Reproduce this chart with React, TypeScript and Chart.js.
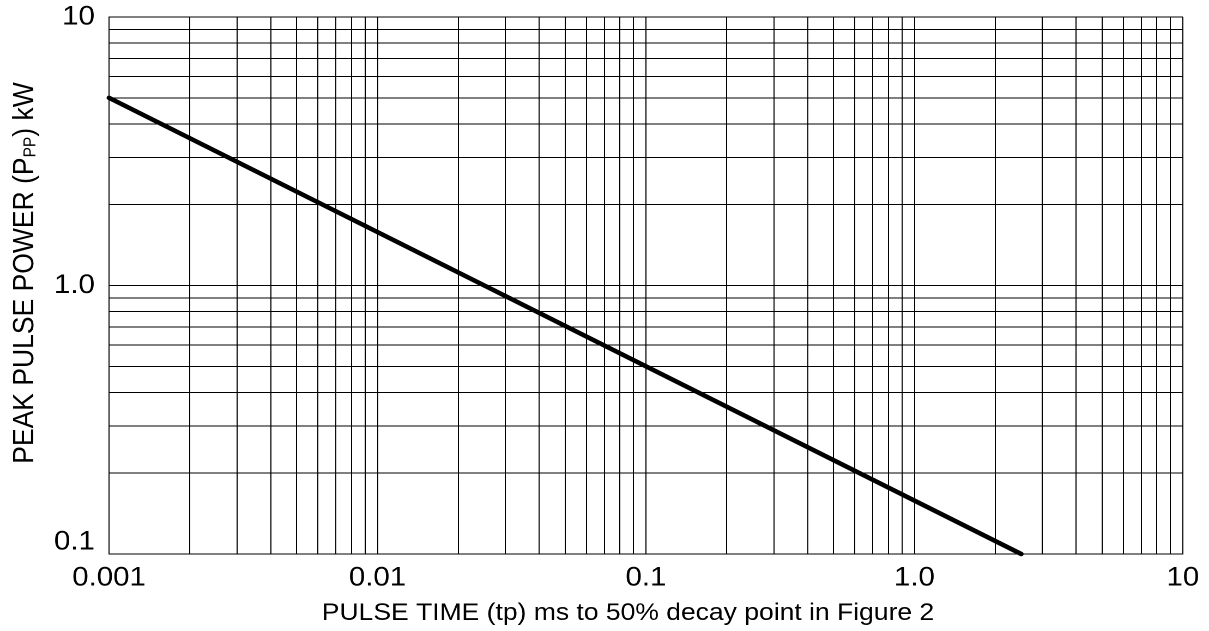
import React, { useEffect, useRef } from 'react';
import { Chart, registerables } from 'chart.js';

Chart.register(...registerables);

// ---- data ----
const PULSE_TIME_MS = [0.001, 2.5];
const PEAK_POWER_KW = [5, 0.1];

const X_DECADES = [0.001, 0.01, 0.1, 1, 10];
const X_TICK_LABELS = ['0.001', '0.01', '0.1', '1.0', '10'];
const Y_DECADES = [0.1, 1, 10];
const Y_TICK_LABELS = ['0.1', '1.0', '10'];
const GRID_MANTISSAS = [1, 2, 3, 4, 5, 6, 7, 8, 9];

const X_TITLE = 'PULSE TIME (tp) ms to 50% decay point in Figure 2';
const Y_TITLE_PARTS = ['PEAK PULSE POWER (P', 'PP', ') kW'];

// ---- layout ----
const W = 1209;
const H = 631;
const STRETCH = 1.09;
const CW = Math.round(W / STRETCH);
const SX = W / CW;
const FONT = "'Liberation Sans', Arial, Helvetica, sans-serif";
const TICK_SIZE = 27;

function gridValues(decades: number[]): number[] {
  const out: number[] = [];
  decades.forEach((d, i) => {
    if (i === decades.length - 1) {
      out.push(d);
    } else {
      GRID_MANTISSAS.forEach((m) => out.push(+(d * m).toPrecision(8)));
    }
  });
  return out;
}

function decadeIndex(value: number, decades: number[]): number {
  return decades.findIndex((d) => Math.abs(value / d - 1) < 1e-6);
}

function labelFor(value: number, decades: number[], labels: string[]): string {
  const idx = decadeIndex(value, decades);
  return idx >= 0 ? labels[idx] : '';
}

const X_GRID = gridValues(X_DECADES);
const Y_GRID = gridValues(Y_DECADES);

const titlesPlugin = {
  id: 'axisTitles',
  afterDraw(chart: any) {
    const ctx = chart.ctx as CanvasRenderingContext2D;
    const main = `26.5px ${FONT}`;
    const sub = `15.5px ${FONT}`;
    ctx.save();
    ctx.fillStyle = '#000';

    // x title
    ctx.font = `24.3px ${FONT}`;
    ctx.textAlign = 'center';
    ctx.textBaseline = 'alphabetic';
    ctx.fillText(X_TITLE, 628 / SX, 620);

    // y title with subscript
    ctx.font = main;
    const w0 = ctx.measureText(Y_TITLE_PARTS[0]).width;
    const w2 = ctx.measureText(Y_TITLE_PARTS[2]).width;
    ctx.font = sub;
    const w1 = ctx.measureText(Y_TITLE_PARTS[1]).width;
    const total = w0 + w1 + w2;
    ctx.translate(30.5, 273);
    ctx.rotate(-Math.PI / 2);
    ctx.textAlign = 'left';
    let x = -total / 2;
    ctx.font = main;
    ctx.fillText(Y_TITLE_PARTS[0], x, 0);
    x += w0;
    ctx.font = sub;
    ctx.fillText(Y_TITLE_PARTS[1], x, 2);
    x += w1;
    ctx.font = main;
    ctx.fillText(Y_TITLE_PARTS[2], x, 0);
    ctx.restore();
  },
};

export default function App() {
  const ref = useRef<HTMLCanvasElement>(null);

  useEffect(() => {
    document.body.style.margin = '0';
    const canvas = ref.current;
    if (!canvas) return;
    const chart = new Chart(canvas, {
      type: 'line',
      data: {
        datasets: [
          {
            data: PULSE_TIME_MS.map((t, i) => ({ x: t, y: PEAK_POWER_KW[i] })),
            borderColor: '#000',
            borderWidth: 4.5,
            borderCapStyle: 'round',
            pointRadius: 0,
            fill: false,
            tension: 0,
            clip: false as any,
          },
        ],
      },
      options: {
        animation: false,
        responsive: false,
        devicePixelRatio: 2,
        layout: { padding: { top: 17, right: CW - 1085, bottom: 0, left: 0 } },
        plugins: {
          legend: { display: false },
          tooltip: { enabled: false },
          title: { display: false },
        },
        scales: {
          x: {
            type: 'logarithmic',
            min: 0.001,
            max: 10,
            afterBuildTicks: (axis: any) => {
              axis.ticks = X_GRID.map((v) => ({ value: v }));
            },
            afterFit: (axis: any) => {
              axis.height = 77;
              axis.paddingLeft = 0;
              axis.paddingRight = 0;
              axis.paddingTop = 0;
              axis.paddingBottom = 0;
            },
            ticks: {
              autoSkip: false,
              maxRotation: 0,
              minRotation: 0,
              padding: 8,
              color: '#000',
              font: { family: FONT, size: TICK_SIZE },
              callback: (v: any) => labelFor(Number(v), X_DECADES, X_TICK_LABELS),
            },
            grid: { color: '#000', lineWidth: 1, drawTicks: false },
            border: { color: '#000', width: 1 },
          },
          y: {
            type: 'logarithmic',
            min: 0.1,
            max: 10,
            afterBuildTicks: (axis: any) => {
              axis.ticks = Y_GRID.map((v) => ({ value: v }));
            },
            afterFit: (axis: any) => {
              axis.width = 100;
              axis.paddingLeft = 0;
              axis.paddingRight = 0;
              axis.paddingTop = 0;
              axis.paddingBottom = 0;
            },
            ticks: {
              autoSkip: false,
              padding: 13,
              color: '#000',
              font: (c: any) => {
                const first = c.tick && decadeIndex(c.tick.value, Y_DECADES) === 0;
                return first
                  ? { family: FONT, size: TICK_SIZE, lineHeight: '24px' }
                  : { family: FONT, size: TICK_SIZE };
              },
              callback: (v: any) => {
                const s = labelFor(Number(v), Y_DECADES, Y_TICK_LABELS);
                return decadeIndex(Number(v), Y_DECADES) === 0 ? [s, ''] : s;
              },
            },
            grid: { color: '#000', lineWidth: 1, drawTicks: false },
            border: { color: '#000', width: 1 },
          },
        },
      },
      plugins: [titlesPlugin],
    } as any);
    return () => chart.destroy();
  }, []);

  return (
    <div
      style={{
        position: 'absolute',
        left: 0,
        top: 0,
        width: W,
        height: H,
        overflow: 'hidden',
        background: '#fff',
      }}
    >
      <canvas
        ref={ref}
        width={CW}
        height={H}
        style={{
          width: CW,
          height: H,
          display: 'block',
          transform: `scaleX(${SX})`,
          transformOrigin: '0 0',
        }}
      />
    </div>
  );
}
